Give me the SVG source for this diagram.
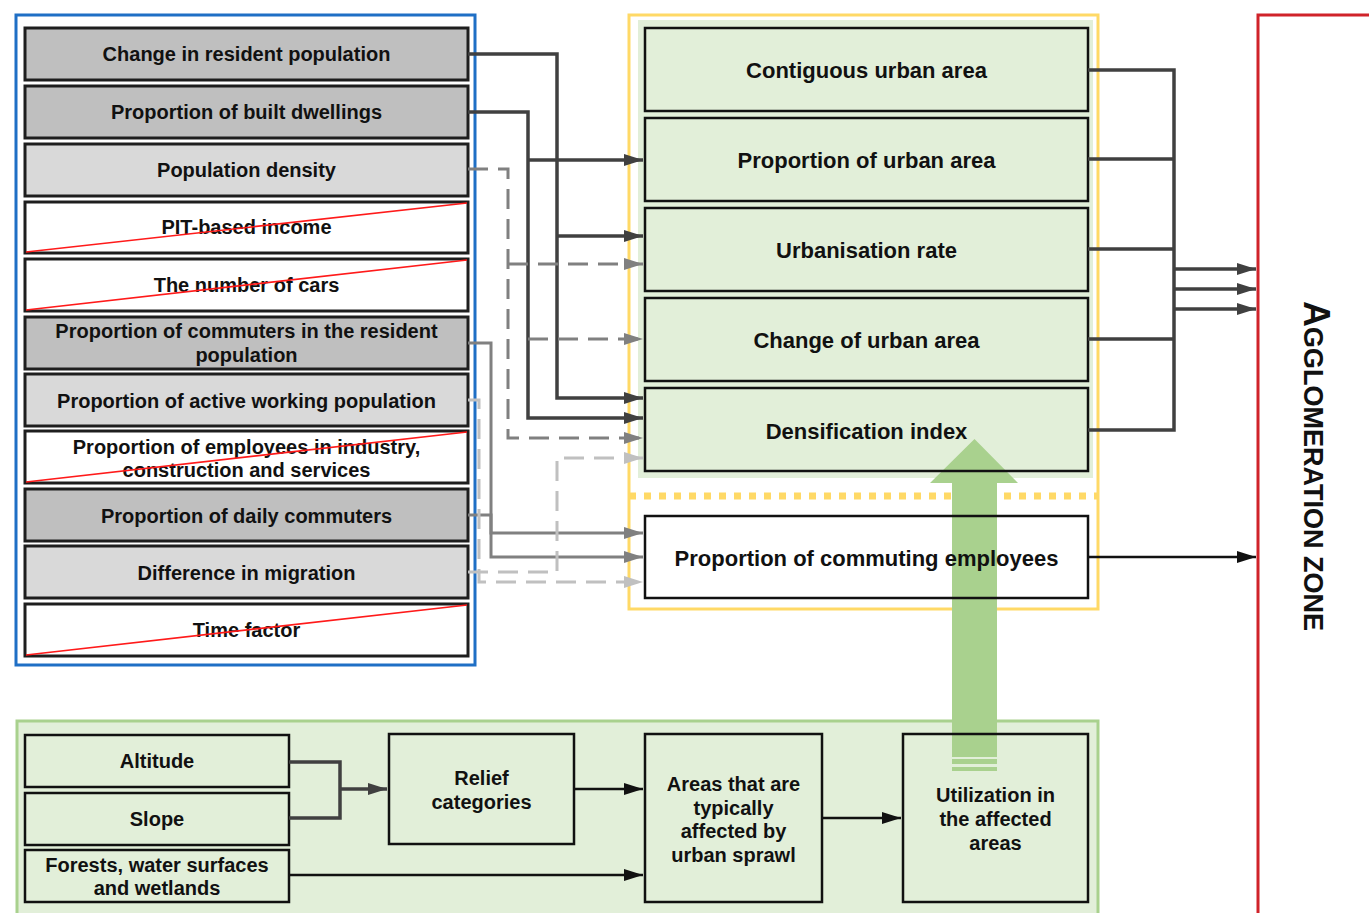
<svg xmlns="http://www.w3.org/2000/svg" width="1369" height="913" viewBox="0 0 1369 913">
<style>
text{font-family:"Liberation Sans",Arial,sans-serif;font-weight:bold;fill:#111;text-anchor:middle}
.t20{font-size:20px}
.t22{font-size:22px}
.lb{stroke:#1e1e1e;stroke-width:3}
.dg{fill:#bfbfbf}
.lg{fill:#d9d9d9}
.wh{fill:#fff}
.gb{fill:none;stroke:#111;stroke-width:2.5}
.strike{stroke:#ff1a1a;stroke-width:1.6}
.c{fill:none}
.dark{stroke:#404040;stroke-width:3.5}
.gray{stroke:#808080;stroke-width:3}
.lgt{stroke:#c0c0c0;stroke-width:3}
.blk{stroke:#111;stroke-width:2.5}
.dash{stroke-dasharray:20 10}
</style>
<defs>
<marker id="aD" markerUnits="userSpaceOnUse" markerWidth="20" markerHeight="12" refX="19" refY="6" orient="auto"><path d="M0,0 L19,6 L0,12 Z" fill="#404040"/></marker>
<marker id="aG" markerUnits="userSpaceOnUse" markerWidth="20" markerHeight="12" refX="19" refY="6" orient="auto"><path d="M0,0 L19,6 L0,12 Z" fill="#808080"/></marker>
<marker id="aL" markerUnits="userSpaceOnUse" markerWidth="20" markerHeight="12" refX="19" refY="6" orient="auto"><path d="M0,0 L19,6 L0,12 Z" fill="#c0c0c0"/></marker>
<marker id="aK" markerUnits="userSpaceOnUse" markerWidth="20" markerHeight="12" refX="19" refY="6" orient="auto"><path d="M0,0 L19,6 L0,12 Z" fill="#111"/></marker>
</defs>
<rect width="1369" height="913" fill="#fff"/>

<!-- containers -->
<g id="containers">
<rect x="16" y="15" width="459" height="650" fill="none" stroke="#1f6fc5" stroke-width="3"/>
<rect x="638" y="20" width="455" height="458" fill="#e2efd9"/>
<rect x="629" y="15" width="469" height="594" fill="none" stroke="#ffd966" stroke-width="3"/>
<line x1="629" y1="496" x2="1098" y2="496" stroke="#ffd966" stroke-width="7" stroke-dasharray="7 8"/>
<path d="M1369,15 H1258 V913" fill="none" stroke="#d0232a" stroke-width="3"/>
<rect x="17" y="721" width="1081" height="210" fill="#e2efd9" stroke="#a9d18e" stroke-width="3"/>
</g>

<!-- big green arrow (utilization feeds the indicators) -->
<g id="big-arrow" fill="#a9d18e">
<path d="M952,757 V483 H930 L974.5,439 L1018,483 H997 V757 Z"/>
<rect x="952" y="759" width="45" height="5"/>
<rect x="952" y="767" width="45" height="4"/>
</g>

<!-- left indicator nodes -->
<g id="n-change-resident"><rect class="lb dg" x="25" y="28" width="443" height="52"/><text class="t20" x="246.5" y="61">Change in resident population</text></g>
<g id="n-built-dwellings"><rect class="lb dg" x="25" y="86" width="443" height="52"/><text class="t20" x="246.5" y="119">Proportion of built dwellings</text></g>
<g id="n-pop-density"><rect class="lb lg" x="25" y="144" width="443" height="52"/><text class="t20" x="246.5" y="177">Population density</text></g>
<g id="n-pit-income"><rect class="lb wh" x="25" y="202" width="443" height="51"/><text class="t20" x="246.5" y="234">PIT-based income</text><line class="strike" x1="26" y1="252" x2="467" y2="203"/></g>
<g id="n-cars"><rect class="lb wh" x="25" y="259" width="443" height="52"/><text class="t20" x="246.5" y="292">The number of cars</text><line class="strike" x1="26" y1="310" x2="467" y2="260"/></g>
<g id="n-commuters-resident"><rect class="lb dg" x="25" y="317" width="443" height="52"/><text class="t20" x="246.5" y="338">Proportion of commuters in the resident</text><text class="t20" x="246.5" y="362">population</text></g>
<g id="n-active-working"><rect class="lb lg" x="25" y="374" width="443" height="52"/><text class="t20" x="246.5" y="408">Proportion of active working population</text></g>
<g id="n-employees"><rect class="lb wh" x="25" y="431" width="443" height="52"/><text class="t20" x="246.5" y="454">Proportion of employees in industry,</text><text class="t20" x="246.5" y="477">construction and services</text><line class="strike" x1="26" y1="482" x2="467" y2="432"/></g>
<g id="n-daily-commuters"><rect class="lb dg" x="25" y="489" width="443" height="52"/><text class="t20" x="246.5" y="523">Proportion of daily commuters</text></g>
<g id="n-migration"><rect class="lb lg" x="25" y="546" width="443" height="52"/><text class="t20" x="246.5" y="580">Difference in migration</text></g>
<g id="n-time"><rect class="lb wh" x="25" y="604" width="443" height="52"/><text class="t20" x="246.5" y="637">Time factor</text><line class="strike" x1="26" y1="655" x2="467" y2="605"/></g>

<!-- middle nodes -->
<g id="n-contiguous"><rect class="gb" x="645" y="28" width="443" height="83"/><text class="t22" x="866.5" y="78">Contiguous urban area</text></g>
<g id="n-prop-urban"><rect class="gb" x="645" y="118" width="443" height="83"/><text class="t22" x="866.5" y="168">Proportion of urban area</text></g>
<g id="n-urbanisation"><rect class="gb" x="645" y="208" width="443" height="83"/><text class="t22" x="866.5" y="258">Urbanisation rate</text></g>
<g id="n-change-urban"><rect class="gb" x="645" y="298" width="443" height="83"/><text class="t22" x="866.5" y="348">Change of urban area</text></g>
<g id="n-densification"><rect class="gb" x="645" y="388" width="443" height="83"/><text class="t22" x="866.5" y="439">Densification index</text></g>
<g id="n-commuting"><rect class="gb" x="645" y="516" width="443" height="82"/><text class="t22" x="866.5" y="566">Proportion of commuting employees</text></g>

<!-- agglomeration zone label -->
<g id="n-agglomeration"><text transform="translate(1304,466) rotate(90)" style="font-size:36px;fill:#111">A<tspan style="font-size:27px">GGLOMERATION ZONE</tspan></text></g>

<!-- bottom nodes -->
<g id="n-altitude"><rect class="gb" x="25" y="735" width="264" height="52"/><text class="t20" x="157" y="768">Altitude</text></g>
<g id="n-slope"><rect class="gb" x="25" y="793" width="264" height="52"/><text class="t20" x="157" y="826">Slope</text></g>
<g id="n-forests"><rect class="gb" x="25" y="850" width="264" height="52"/><text class="t20" x="157" y="872">Forests, water surfaces</text><text class="t20" x="157" y="895">and wetlands</text></g>
<g id="n-relief"><rect class="gb" x="389" y="734" width="185" height="110"/><text class="t20" x="481.5" y="785">Relief</text><text class="t20" x="481.5" y="809">categories</text></g>
<g id="n-areas"><rect class="gb" x="645" y="734" width="177" height="168"/><text class="t20" x="733.5" y="791">Areas that are</text><text class="t20" x="733.5" y="815">typically</text><text class="t20" x="733.5" y="838">affected by</text><text class="t20" x="733.5" y="862">urban sprawl</text></g>
<g id="n-utilization"><rect class="gb" x="903" y="734" width="185" height="168"/><text class="t20" x="995.5" y="802">Utilization in</text><text class="t20" x="995.5" y="826">the affected</text><text class="t20" x="995.5" y="850">areas</text></g>

<!-- connectors -->
<g id="connectors">
<path class="c dark" d="M468,54 H557 V398 H643" marker-end="url(#aD)"/>
<path class="c dark" d="M557,236 H643" marker-end="url(#aD)"/>
<path class="c dark" d="M468,112 H528 V418 H643" marker-end="url(#aD)"/>
<path class="c dark" d="M528,160 H643" marker-end="url(#aD)"/>
<path class="c gray dash" d="M468,169 H508 V438 H643" marker-end="url(#aG)"/>
<path class="c gray dash" d="M508,264 H643" marker-end="url(#aG)"/>
<path class="c gray dash" d="M528,339 H643" marker-end="url(#aG)"/>
<path class="c gray" d="M468,343 H491 V557 H643" marker-end="url(#aG)"/>
<path class="c gray" d="M468,515 H491 V533 H643" marker-end="url(#aG)"/>
<path class="c lgt dash" d="M468,400 H479 V582 H643" marker-end="url(#aL)"/>
<path class="c lgt dash" d="M468,572 H557 V458 H643" marker-end="url(#aL)"/>
<path class="c dark" d="M1088,70 H1174 V430 H1088 M1088,159 H1174 M1088,249 H1174 M1088,339 H1174"/>
<path class="c dark" d="M1174,269 H1256" marker-end="url(#aD)"/>
<path class="c dark" d="M1174,289 H1256" marker-end="url(#aD)"/>
<path class="c dark" d="M1174,309 H1256" marker-end="url(#aD)"/>
<path class="c blk" d="M1088,557 H1256" marker-end="url(#aK)"/>
<path class="c dark" d="M289,762 H340 V818 H289"/>
<path class="c dark" d="M340,789 H387" marker-end="url(#aD)"/>
<path class="c blk" d="M574,789 H643" marker-end="url(#aK)"/>
<path class="c blk" d="M289,875 H643" marker-end="url(#aK)"/>
<path class="c blk" d="M822,818 H901" marker-end="url(#aK)"/>
</g>
</svg>
